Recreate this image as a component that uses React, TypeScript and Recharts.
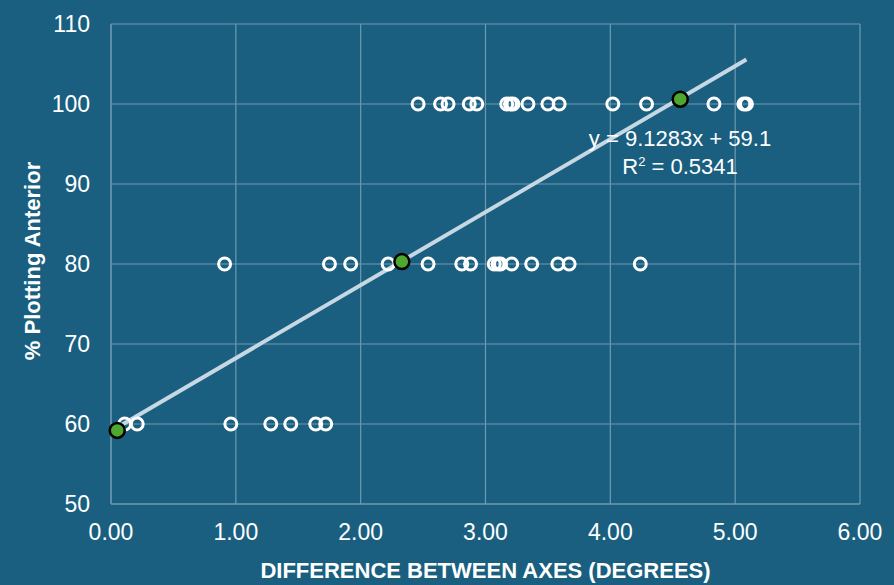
import {
  CartesianGrid,
  Label,
  ReferenceLine,
  Scatter,
  ScatterChart,
  XAxis,
  YAxis,
} from "recharts";

// x positions (degrees) of the survey responses, grouped by % plotting anterior
const ROW_100_X = [2.46, 2.64, 2.7, 2.87, 2.93, 3.17, 3.2, 3.22, 3.34, 3.5, 3.59, 4.02, 4.29, 4.83, 5.07, 5.09];
const ROW_80_X = [0.91, 1.75, 1.92, 2.22, 2.54, 2.81, 2.88, 3.07, 3.1, 3.12, 3.21, 3.37, 3.58, 3.67, 4.24];
const ROW_60_X = [0.11, 0.21, 0.96, 1.28, 1.44, 1.64, 1.72];

// highlighted cases
const HIGHLIGHT_X = [0.05, 2.33, 4.56];
const HIGHLIGHT_Y = [59.2, 80.3, 100.6];

const X_TICKS = [0, 1, 2, 3, 4, 5, 6];
const Y_TICKS = [50, 60, 70, 80, 90, 100, 110];

const SLOPE = 9.1283;
const INTERCEPT = 59.1;
const R_SQUARED = 0.5341;

const BG = "#1a5f80";
const GRID = "#6e9ab2";
const FONT = "'Liberation Sans', Arial, sans-serif";

const hollowPoints = [
  ...ROW_100_X.map((x) => ({ x, y: 100 })),
  ...ROW_80_X.map((x) => ({ x, y: 80 })),
  ...ROW_60_X.map((x) => ({ x, y: 60 })),
];
const highlightPoints = HIGHLIGHT_X.map((x, i) => ({ x, y: HIGHLIGHT_Y[i] }));

const allX = [...hollowPoints, ...highlightPoints].map((p) => p.x);
const trendX0 = Math.min(...allX);
const trendX1 = Math.max(...allX);

const HollowDot = (props: any) => (
  <circle cx={props.cx} cy={props.cy} r={6} fill="none" stroke="#fff" strokeWidth={3} />
);

const GreenDot = (props: any) => (
  <circle cx={props.cx} cy={props.cy} r={7.5} fill="#4ea72e" stroke="#000" strokeWidth={2.5} />
);

const tickStyle = { fill: "#fff", fontSize: 23, fontFamily: FONT };

export default function App() {
  return (
    <div style={{ position: "absolute", left: 0, top: 0, width: 894, height: 585, background: BG }}>
      <ScatterChart width={894} height={585} margin={{ top: 24, right: 34, bottom: 0, left: 0 }}>
        <CartesianGrid stroke={GRID} strokeWidth={1.2} />
        <XAxis
          type="number"
          dataKey="x"
          domain={[0, 6]}
          ticks={X_TICKS}
          tickFormatter={(v) => Number(v).toFixed(2)}
          height={81}
          axisLine={{ stroke: GRID }}
          tickLine={false}
          tickSize={0}
          tickMargin={20}
          tick={tickStyle}
        >
          <Label
            content={({ viewBox }: any) => (
              <text
                x={viewBox.x + viewBox.width / 2}
                y={viewBox.y + 74}
                textAnchor="middle"
                fill="#fff"
                fontSize={22}
                fontWeight="bold"
                fontFamily={FONT}
              >
                DIFFERENCE BETWEEN AXES (DEGREES)
              </text>
            )}
          />
        </XAxis>
        <YAxis
          type="number"
          dataKey="y"
          domain={[50, 110]}
          ticks={Y_TICKS}
          width={111}
          axisLine={{ stroke: GRID }}
          tickLine={false}
          tickSize={0}
          tickMargin={21}
          tick={tickStyle}
        >
          <Label
            content={({ viewBox }: any) => {
              const cx = viewBox.x + 32;
              const cy = viewBox.y + 237;
              return (
                <text
                  x={cx}
                  y={cy}
                  transform={`rotate(-90 ${cx} ${cy})`}
                  textAnchor="middle"
                  dominantBaseline="central"
                  fill="#fff"
                  fontSize={22}
                  fontWeight="bold"
                  fontFamily={FONT}
                >
                  % Plotting Anterior
                </text>
              );
            }}
          />
        </YAxis>
        <Scatter data={hollowPoints} shape={HollowDot} isAnimationActive={false} />
        <ReferenceLine
          segment={[
            { x: trendX0, y: SLOPE * trendX0 + INTERCEPT },
            { x: trendX1, y: SLOPE * trendX1 + INTERCEPT },
          ]}
          stroke="#c6d8e3"
          strokeWidth={4}
          ifOverflow="visible"
        />
        <Scatter data={highlightPoints} shape={GreenDot} isAnimationActive={false} />
      </ScatterChart>
      <div
        style={{
          position: "absolute",
          left: 560,
          top: 125,
          width: 240,
          textAlign: "center",
          color: "#fff",
          fontFamily: FONT,
          fontSize: 22,
          lineHeight: "28px",
        }}
      >
        <div>y = {SLOPE}x + {INTERCEPT}</div>
        <div>
          R<sup style={{ fontSize: 13, verticalAlign: "8px", lineHeight: 0 }}>2</sup> = {R_SQUARED}
        </div>
      </div>
    </div>
  );
}
